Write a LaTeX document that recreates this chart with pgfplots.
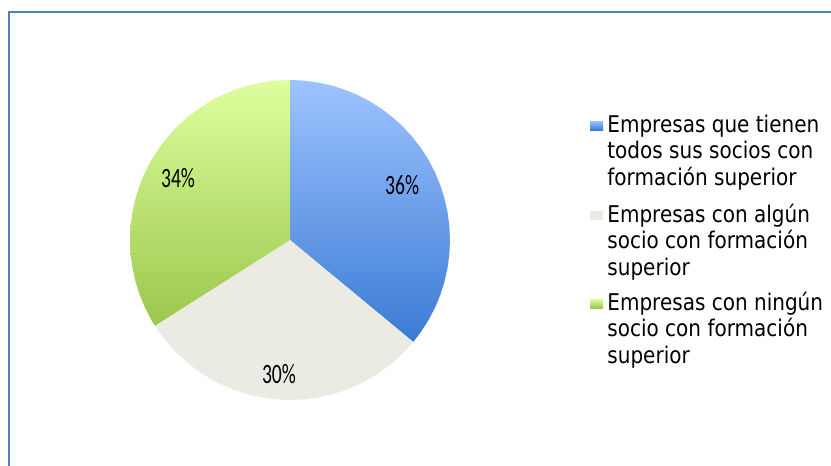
\documentclass[border=0pt]{standalone}
\usepackage{pgfplots}
\pgfplotsset{compat=1.18}
\usepgfplotslibrary{polar}
\usepackage{fontspec}
\setmainfont{DejaVu Sans}[FakeStretch=0.87]
\newfontfamily\pctfont{Carlito}[FakeStretch=0.70]
\definecolor{framec}{HTML}{4F81BD}
\definecolor{blueT}{HTML}{9DC3FF}
\definecolor{blueB}{HTML}{3B7BD4}
\definecolor{greenT}{HTML}{DDFF9E}
\definecolor{greenB}{HTML}{9BC74C}
\definecolor{beige}{HTML}{ECEBE3}
\begin{document}
\begin{tikzpicture}[x=0.5pt,y=0.5pt]
\useasboundingbox (0,0) rectangle (831,-466);
\draw[framec, line width=1.25pt] (9,-470) -- (9,-12) -- (835,-12);
\begin{polaraxis}[at={(145pt,-120pt)}, anchor=center, scale only axis,
  width=160pt, height=160pt, hide axis, ymin=0, ymax=1, xmin=0, xmax=360, clip=false]
% Empresas que tienen todos sus socios con formacion superior: 36%
\addplot[draw=none, top color=blueT, bottom color=blueB] coordinates {
 (0,0) (90,1) (85,1) (80,1) (75,1) (70,1) (65,1) (60,1) (55,1) (50,1) (45,1)
 (40,1) (35,1) (30,1) (25,1) (20,1) (15,1) (10,1) (5,1) (0,1) (355,1) (350,1)
 (345,1) (340,1) (335,1) (330,1) (325,1) (320.4,1)} -- cycle;
% Empresas con algun socio con formacion superior: 30%
\addplot[draw=none, fill=beige] coordinates {
 (0,0) (320.4,1) (315,1) (310,1) (305,1) (300,1) (295,1) (290,1) (285,1) (280,1)
 (275,1) (270,1) (265,1) (260,1) (255,1) (250,1) (245,1) (240,1) (235,1) (230,1)
 (225,1) (220,1) (215,1) (212.4,1)} -- cycle;
% Empresas con ningun socio con formacion superior: 34%
\addplot[draw=none, top color=greenT, bottom color=greenB] coordinates {
 (0,0) (212.4,1) (210,1) (205,1) (200,1) (195,1) (190,1) (185,1) (180,1) (175,1)
 (170,1) (165,1) (160,1) (155,1) (150,1) (145,1) (140,1) (135,1) (130,1) (125,1)
 (120,1) (115,1) (110,1) (105,1) (100,1) (95,1) (90,1)} -- cycle;
\node[font=\pctfont\fontsize{14}{16}\selectfont] at (axis cs:26,0.78) {36\%};
\node[font=\pctfont\fontsize{14}{16}\selectfont] at (axis cs:265.3,0.84) {30\%};
\node[font=\pctfont\fontsize{14}{16}\selectfont] at (axis cs:151,0.80) {34\%};
\end{polaraxis}
\begin{scope}[every node/.style={anchor=base west, inner sep=0pt, font=\fontsize{11.5}{13}\selectfont}]
\fill[top color=blueT, bottom color=blueB] (590,-121) rectangle (603,-130);
\node at (607,-132) {Empresas que tienen};
\node at (607,-158.5) {todos sus socios con};
\node at (607,-185) {formación superior};
\fill[beige] (590,-211) rectangle (603,-220);
\node at (607,-222) {Empresas con algún};
\node at (607,-248.5) {socio con formación};
\node at (607,-275) {superior};
\fill[top color=greenT, bottom color=greenB] (590,-299) rectangle (603,-308);
\node at (607,-310) {Empresas con ningún};
\node at (607,-336.5) {socio con formación};
\node at (607,-363) {superior};
\end{scope}
\end{tikzpicture}
\end{document}
